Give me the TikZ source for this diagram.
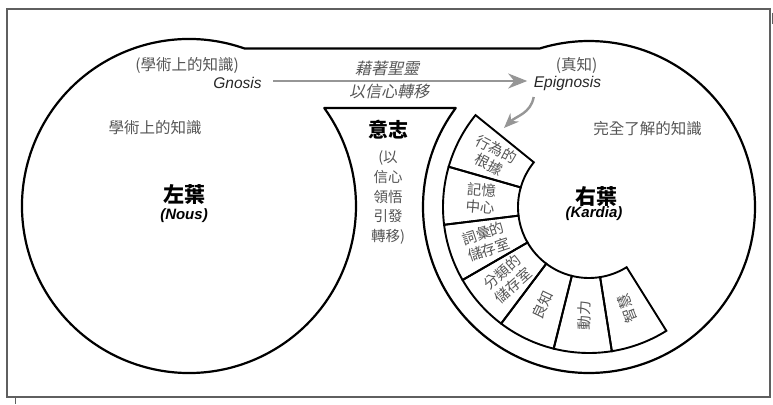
\documentclass[tikz,border=0pt]{standalone}
\usepackage{fontspec}
\setmainfont{Liberation Sans}
\newfontfamily\cjk{Noto Sans CJK TC}
\newfontfamily\cjkit[FakeSlant=0.22]{Noto Sans CJK TC}
\usetikzlibrary{arrows.meta,calc}
\definecolor{txtgray}{RGB}{85,85,85}
\definecolor{arrgray}{RGB}{150,150,150}
\definecolor{framegray}{RGB}{95,95,95}
\begin{document}
\begin{tikzpicture}[x=1pt,y=1pt,
  outline/.style={line width=2.2pt,line join=round},
  segbox/.style={line width=1.9pt,line join=miter},
  graylbl/.style={font=\fontsize{15.5}{18}\selectfont\cjk,text=txtgray,inner sep=0pt},
  itlbl/.style={font=\fontsize{16}{18}\selectfont\cjkit,text=txtgray,inner sep=0pt},
  latit/.style={font=\fontsize{15.5}{18}\selectfont\itshape,text=black!85,inner sep=0pt},
  lobe/.style={font=\fontsize{21}{24}\selectfont\cjk\bfseries,inner sep=0pt},
  lobesub/.style={font=\fontsize{15}{18}\selectfont\bfseries\itshape,inner sep=0pt},
  segtxt/.style={font=\fontsize{14.5}{17.5}\selectfont\cjk,text=txtgray,align=center,inner sep=0pt},
  bigarrow/.style={draw=arrgray,line width=2.4pt,-{Stealth[length=19pt,width=15pt,inset=6pt]}},
  smallarrow/.style={draw=arrgray,line width=2.4pt,-{Stealth[length=15pt,width=12pt,inset=5pt]}}
]
\useasboundingbox (0,0) rectangle (773,404);
% frame and crop ticks
\draw[framegray,line width=1.2pt] (7,7) rectangle (770,395);
\draw[framegray,line width=1pt] (772.6,391) -- (772.6,380);
\draw[framegray,line width=1pt] (15,7) -- (15,0);

\coordinate (L) at (189,198);
\coordinate (C) at (589,197);

% outline of the two lobes
\draw[outline] ($(L)+(70.58:167)$) arc[start angle=70.58,end angle=395.93,radius=167]
  -- ($(C)+(143.39:166)$) arc[start angle=143.39,end angle=467.29,radius=166] -- cycle;

% segments of the right lobe
\foreach \a/\t [count=\i, evaluate=\a as \b using \a+23, evaluate=\a as \m using \a+11.5, evaluate=\a as \r using \a+11.5-180] in
  {141/{行為的\\根據},164/{記憶\\中心},187/{詞彙的\\儲存室},210/{分類的\\儲存室},233/{良知},256/{動力},279/{智慧}}
{
  \draw[segbox] ($(C)+(\a:71)$) arc[start angle=\a,end angle=\b,radius=71]
    -- ($(C)+(\b:146)$) arc[start angle=\b,end angle=\a,radius=146] -- cycle;
  \node[segtxt,rotate=\r] (s\i) at ($(C)+(\m:108.5)$) {\t};
}

% left lobe texts
\node[graylbl] (gnp) at (187,339) {(學術上的知識)};
\node[latit,anchor=base] (gn) at (237.5,315) {Gnosis};
\node[graylbl] (acad) at (155,276) {學術上的知識};
\node[lobe] (left) at (184,209) {左葉};
\node[lobesub] (nous) at (184,188) {(Nous)};

% middle texts
\node[itlbl] (sp1) at (387,336) {藉著聖靈};
\node[itlbl] (sp2) at (389,313) {以信心轉移};
\node[font=\fontsize{20}{24}\selectfont\cjk\bfseries,inner sep=0pt] (will) at (388,274) {意志};
\node[font=\fontsize{14.5}{19.6}\selectfont\cjk,text=txtgray,align=center,inner sep=0pt] (willsub) at (388,206.5)
  {(以\\信心\\領悟\\引發\\轉移)};

% right lobe texts
\node[graylbl] (epp) at (576.7,339) {(真知)};
\node[latit,anchor=base] (ep) at (567.5,316) {Epignosis};
\node[graylbl] (full) at (647.5,275) {完全了解的知識};
\node[lobe] (right) at (596,207) {右葉};
\node[lobesub] (kardia) at (594,190) {(Kardia)};

% arrows
\path (gn.base east) ++(11.5,8) coordinate (a1);
\path (ep.base west) ++(-6.5,7) coordinate (a2);
\draw[bigarrow] (a1) -- (a2);
\path (ep.base west) ++(0,-9) coordinate (b1);
\coordinate (b2) at (504,276);
\draw[smallarrow] (b1) to[out=-100,in=45] (b2);
\end{tikzpicture}
\end{document}
